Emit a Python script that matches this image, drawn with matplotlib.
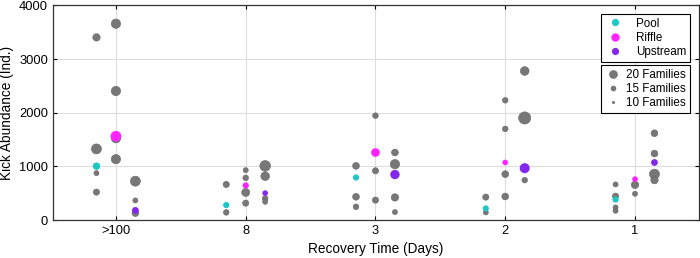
import numpy as np
import matplotlib
matplotlib.use('Agg')
import matplotlib.pyplot as plt
from matplotlib.lines import Line2D

plt.rcParams['font.family'] = ['Liberation Sans', 'DejaVu Sans']

categories = ['>100', '8', '3', '2', '1']
habitats = ['Pool', 'Riffle', 'Upstream']
offsets = {'Pool': -0.15, 'Riffle': 0.0, 'Upstream': 0.15}
colors = {'Pool': '#1fc6c6', 'Riffle': '#ff24ff', 'Upstream': '#8429ec'}
GRAY = '#777777'

# gray samples: abundance and number of families, per category
pool_vals = [[3404, 1326, 874, 521], [664, 143], [1010, 434, 248], [428, 143], [664, 446, 236, 174]]
pool_fams = [[18, 22, 14, 16], [16, 15], [17, 17, 15], [16, 14], [14, 16, 14, 14]]
riffle_vals = [[3659, 2405, 1525, 1135], [930, 787, 515, 316], [1946, 918, 372], [2232, 1699, 856, 440], [657, 490]]
riffle_fams = [[21, 21, 21, 21], [14, 15, 19, 16], [15, 16, 16], [15, 15, 17, 17], [18, 14]]
upstream_vals = [[725, 366, 130], [1010, 818, 403, 341], [1259, 1042, 422, 149], [2778, 1903, 744], [1618, 1240, 856, 744]]
upstream_fams = [[22, 14, 17], [23, 20, 15, 14], [17, 21, 18, 14], [20, 25, 15], [17, 17, 22, 18]]

# highlighted samples (one per habitat and category)
pool_hl = [1004, 279, 793, 217, 384]
pool_hl_fams = [18, 16, 16, 16, 16]
riffle_hl = [1562, 645, 1259, 1073, 763]
riffle_hl_fams = [23, 16, 20, 15, 15]
upstream_hl = [180, 502, 849, 967, 1073]
upstream_hl_fams = [17, 15, 21, 22, 17]

gray_data = {'Pool': (pool_vals, pool_fams), 'Riffle': (riffle_vals, riffle_fams),
             'Upstream': (upstream_vals, upstream_fams)}
hl_data = {'Pool': (pool_hl, pool_hl_fams), 'Riffle': (riffle_hl, riffle_hl_fams),
           'Upstream': (upstream_hl, upstream_hl_fams)}

legend_fams = [20, 15, 10]


def fam_size(f):
    # marker area (pt^2) from number of families
    d_px = 0.097 * np.asarray(f, dtype=float) ** 1.5
    return (d_px * 72 / 100) ** 2


fig = plt.figure(figsize=(7, 2.58), dpi=100)
ax = fig.add_axes([0.0757, 0.147, 0.9223, 0.832])

xpos = np.arange(1, len(categories) + 1)
for h in habitats:
    vals, fams = gray_data[h]
    for i, (v, f) in enumerate(zip(vals, fams)):
        ax.scatter(np.full(len(v), xpos[i] + offsets[h]), v, s=fam_size(f),
                   color=GRAY, edgecolors='#666666', linewidths=0.4, zorder=3)
for h in habitats:
    vals, fams = hl_data[h]
    ax.scatter(xpos + offsets[h], vals, s=fam_size(fams), color=colors[h],
               edgecolors='none', zorder=4)

ax.set_xlim(0.515, 5.49)
ax.set_ylim(0, 4000)
ax.set_xticks(xpos)
ax.set_xticklabels(categories)
ax.set_yticks([0, 1000, 2000, 3000, 4000])
ax.tick_params(direction='in', top=True, right=True, labelsize=9.3, length=3, width=0.8)
ax.grid(True, color='#dddddd', linewidth=0.8, zorder=0)
ax.set_axisbelow(True)
for sp in ax.spines.values():
    sp.set_linewidth(0.9)
    sp.set_color('#333333')
ax.set_xlabel('Recovery Time (Days)', fontsize=9.8, labelpad=4)
ax.set_ylabel('Kick Abundance (Ind.)', fontsize=9.8, labelpad=4)

h1 = [Line2D([], [], linestyle='none', marker='o', markersize=ms, color=colors[h],
             markeredgecolor='none') for h, ms in zip(habitats, [5.2, 6.0, 5.2])]
leg1 = ax.legend(h1, habitats, loc='upper right', bbox_to_anchor=(0.986, 0.96),
                 borderaxespad=0, frameon=True, fancybox=False, edgecolor='black',
                 framealpha=1, fontsize=8.4, handlelength=1.9, handletextpad=0.8,
                 labelspacing=0.2, borderpad=0.3)
leg1.get_frame().set_linewidth(0.8)
ax.add_artist(leg1)

h2 = [Line2D([], [], linestyle='none', marker='o', markersize=np.sqrt(fam_size(f)),
             color=GRAY, markeredgecolor='none') for f in legend_fams]
leg2 = ax.legend(h2, [f'{f} Families' for f in legend_fams], loc='upper right',
                 bbox_to_anchor=(0.986, 0.722), borderaxespad=0, frameon=True,
                 fancybox=False, edgecolor='black', framealpha=1, fontsize=8.4,
                 handlelength=1.5, handletextpad=0.4, labelspacing=0.2, borderpad=0.3)
leg2.get_frame().set_linewidth(0.8)

fig.savefig('out.png', dpi=100)
